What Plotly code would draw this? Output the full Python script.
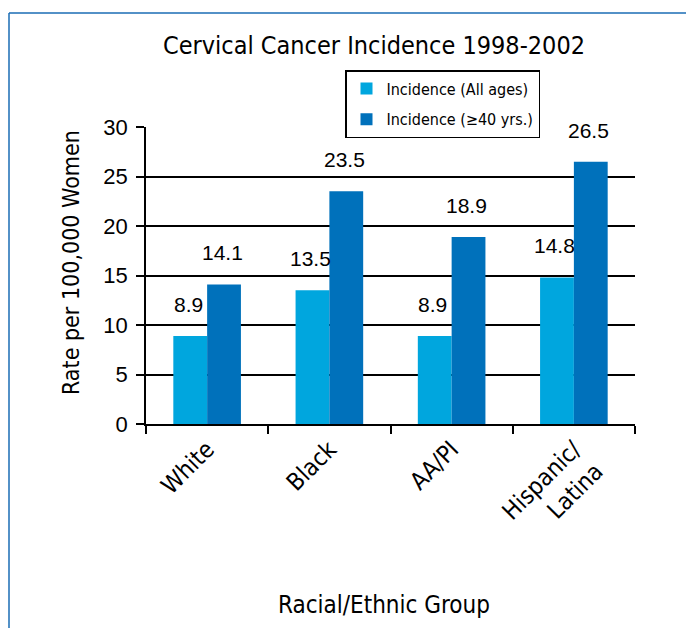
import plotly.graph_objects as go

categories = ["White", "Black", "AA/PI", "Hispanic/<br>Latina"]
all_ages = [8.9, 13.5, 8.9, 14.8]
over_40 = [14.1, 23.5, 18.9, 26.5]
series_names = ["Incidence (All ages)", "Incidence (\u226540 yrs.)"]
y_ticks = [0, 5, 10, 15, 20, 25, 30]

LIGHT = "#00A6DE"
DARK = "#0071BB"
NARROW = "DejaVu Sans Condensed, Roboto Condensed, Roboto, sans-serif"
NUM = "Liberation Sans, Arial, sans-serif"

OFF = 8  # page body margin
W, H = 686, 620
L, R, T, B = 138, 59, 119, 204
pw, ph = W - L - R, H - T - B

def px(x):
    return (x - OFF - L) / pw

def py(y):
    return (H - B - (y - OFF)) / ph

fig = go.Figure()
fig.add_trace(go.Bar(x=categories, y=all_ages, name=series_names[0], legendgroup="a",
                     marker=dict(color=LIGHT, line=dict(width=0))))
fig.add_trace(go.Bar(x=categories, y=over_40, name=series_names[1], legendgroup="b",
                     marker=dict(color=DARK, line=dict(width=0))))

bar_w = pw / len(categories) * (1 - 0.447) / 2
annotations = []
for vals, sgn in ((all_ages, -1), (over_40, 1)):
    for c, v in zip(categories, vals):
        annotations.append(dict(x=c, y=v, xref="x", yref="y", text=f"{v:.1f}",
                                showarrow=False, xanchor="center", yanchor="bottom",
                                xshift=sgn * bar_w / 2 - 2, yshift=18,
                                font=dict(family=NUM, size=21, color="black")))

annotations.append(dict(x=px(384), y=py(605), xref="paper", yref="paper",
                        text="Racial/Ethnic Group", showarrow=False,
                        xanchor="center", yanchor="middle",
                        font=dict(family=NARROW, size=24, color="black")))
annotations.append(dict(x=px(71), y=py(263), xref="paper", yref="paper",
                        text="Rate per 100,000 Women", showarrow=False, textangle=-90,
                        xanchor="center", yanchor="middle",
                        font=dict(family=NARROW, size=23, color="black")))

frame_color = "#1a6db5"
shapes = [
    dict(type="line", xref="paper", yref="paper", x0=px(9), x1=px(700),
         y0=py(13), y1=py(13), line=dict(color=frame_color, width=1.5)),
    dict(type="line", xref="paper", yref="paper", x0=px(9), x1=px(9),
         y0=py(13), y1=py(640), line=dict(color=frame_color, width=1.5)),
]

fig.update_layout(
    width=W, height=H,
    margin=dict(l=L, r=R, t=T, b=B),
    paper_bgcolor="white", plot_bgcolor="white",
    barmode="group", bargap=0.447, bargroupgap=0,
    title=dict(text="Cervical Cancer Incidence 1998-2002", x=(374 - OFF) / W,
               xanchor="center", y=1 - (45 - OFF) / H, yanchor="middle",
               font=dict(family=NARROW, size=25, color="black")),
    legend=dict(x=px(345), y=py(70), xanchor="left", yanchor="top",
                bgcolor="white", bordercolor="black", borderwidth=1.5,
                font=dict(family=NARROW, size=16, color="black"),
                tracegroupgap=7, traceorder="grouped"),
    annotations=annotations,
    shapes=shapes,
    xaxis=dict(showline=True, linecolor="black", linewidth=1.5,
               ticks="outside", ticklen=8, tickcolor="black", tickwidth=1.5,
               tickson="boundaries", tickangle=-45, showgrid=False,
               tickfont=dict(family=NARROW, size=24, color="black")),
    yaxis=dict(range=[0, 30], tickvals=y_ticks, showline=True, linecolor="black",
               linewidth=1.5, ticks="outside", ticklen=8, tickcolor="black",
               tickwidth=1.5, showgrid=True, gridcolor="black", gridwidth=1.5,
               zeroline=False, ticklabelstandoff=4,
               tickfont=dict(family=NUM, size=22, color="black")),
    showlegend=True,
)

fig.write_html("out.html")
